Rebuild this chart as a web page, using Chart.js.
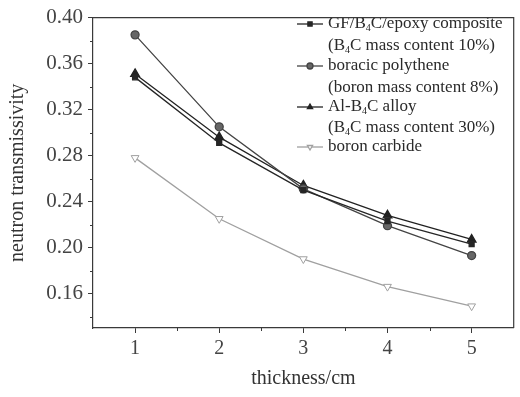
<!DOCTYPE html>
<html>
<head>
<meta charset="utf-8">
<script src="https://cdn.jsdelivr.net/npm/chart.js@4/dist/chart.umd.min.js"></script>
<style>
  html, body { margin: 0; padding: 0; background: #fff; }
  #wrap { width: 520px; height: 397px; }
</style>
</head>
<body>
<div id="wrap"><canvas id="grafico"></canvas></div>
<script>
// dados
const espessura = [1, 2, 3, 4, 5];
const gfB4cEpoxy = [0.348, 0.291, 0.250, 0.223, 0.203];
const polietilenoBorado = [0.385, 0.305, 0.251, 0.219, 0.193];
const ligaAlB4c = [0.351, 0.296, 0.254, 0.228, 0.207];
const carbetoBoro = [0.278, 0.225, 0.190, 0.166, 0.149];
const yTicks = [0.16, 0.20, 0.24, 0.28, 0.32, 0.36, 0.40];
const xTicks = [1, 2, 3, 4, 5];

const FONTE = '"Liberation Serif", "Times New Roman", serif';
const EIXO = '#3a3a3a';

function serie(label, data, cor, ponto, extra) {
    return Object.assign({
        label: label,
        data: espessura.map((x, i) => ({ x: x, y: data[i] })),
        borderColor: cor,
        backgroundColor: cor,
        pointBorderColor: cor,
        pointBackgroundColor: cor,
        pointStyle: ponto,
        pointRadius: 4,
        borderWidth: 1.3,
        tension: 0
    }, extra || {});
}

// legenda desenhada à mão (texto com subscrito)
const legendaPlugin = {
    id: 'legendaManual',
    afterDraw(chart) {
        const ctx = chart.ctx;
        const linhas = [
            { y: 24, ds: 0, partes: [['GF/B'], ['4', 1], ['C/epoxy composite']] },
            { y: 46, partes: [['(B'], ['4', 1], ['C mass content 10%)']] },
            { y: 66, ds: 1, partes: [['boracic polythene']] },
            { y: 88, partes: [['(boron mass content 8%)']] },
            { y: 107, ds: 2, partes: [['Al-B'], ['4', 1], ['C alloy']] },
            { y: 128, partes: [['(B'], ['4', 1], ['C mass content 30%)']] },
            { y: 147, ds: 3, partes: [['boron carbide']] }
        ];
        ctx.save();
        ctx.textBaseline = 'middle';
        linhas.forEach(l => {
            if (l.ds !== undefined) {
                const d = chart.data.datasets[l.ds];
                ctx.strokeStyle = d.borderColor;
                ctx.fillStyle = d.pointBackgroundColor;
                ctx.lineWidth = 1.3;
                ctx.beginPath();
                ctx.moveTo(297, l.y);
                ctx.lineTo(323, l.y);
                ctx.stroke();
                Chart.helpers.drawPoint(ctx, {
                    pointStyle: d.pointStyle,
                    radius: 3,
                    rotation: d.pointRotation || 0,
                    borderWidth: 1
                }, 310, l.y);
            }
            let x = 328;
            ctx.fillStyle = '#2a2a2a';
            l.partes.forEach(p => {
                if (p[1]) {
                    ctx.font = '10px ' + FONTE;
                    ctx.fillText(p[0], x, l.y + 4);
                } else {
                    ctx.font = '17px ' + FONTE;
                    ctx.fillText(p[0], x, l.y);
                }
                x += ctx.measureText(p[0]).width;
            });
        });
        ctx.restore();
    }
};

// moldura e marcas menores
const molduraPlugin = {
    id: 'moldura',
    afterDraw(chart) {
        const ctx = chart.ctx;
        const a = chart.chartArea;
        const xs = chart.scales.x, ys = chart.scales.y;
        ctx.save();
        ctx.strokeStyle = EIXO;
        ctx.lineWidth = 1.2;
        ctx.beginPath();
        ctx.moveTo(a.left, a.top);
        ctx.lineTo(a.right, a.top);
        ctx.lineTo(a.right, a.bottom);
        ctx.stroke();
        ctx.lineWidth = 1;
        for (let v = 0.14; v < 0.40; v += 0.04) {
            const py = Math.round(ys.getPixelForValue(v)) + 0.5;
            ctx.beginPath();
            ctx.moveTo(a.left - 3, py);
            ctx.lineTo(a.left, py);
            ctx.stroke();
        }
        for (let v = 1.5; v < 5.5; v += 1) {
            const px = Math.round(xs.getPixelForValue(v)) + 0.5;
            ctx.beginPath();
            ctx.moveTo(px, a.bottom);
            ctx.lineTo(px, a.bottom + 3);
            ctx.stroke();
        }
        ctx.restore();
    }
};

const config = {
    type: 'line',
    data: {
        datasets: [
            serie('GF/B4C/epoxy composite (B4C mass content 10%)', gfB4cEpoxy, '#262626', 'rect', { pointRadius: 3.5 }),
            serie('boracic polythene (boron mass content 8%)', polietilenoBorado, '#444444', 'circle', { pointBackgroundColor: '#666666' }),
            serie('Al-B4C alloy (B4C mass content 30%)', ligaAlB4c, '#222222', 'triangle', { pointRadius: 5 }),
            serie('boron carbide', carbetoBoro, '#a0a0a0', 'triangle', {
                pointRotation: 180,
                pointBackgroundColor: '#ffffff',
                pointRadius: 4.5,
                pointBorderWidth: 1
            })
        ]
    },
    options: {
        responsive: true,
        maintainAspectRatio: false,
        animation: false,
        layout: { padding: { top: 15, right: 4, left: 0, bottom: 0 } },
        plugins: {
            legend: { display: false },
            tooltip: { enabled: false }
        },
        scales: {
            x: {
                type: 'linear',
                min: 0.5,
                max: 5.5,
                afterBuildTicks: s => { s.ticks = xTicks.map(v => ({ value: v })); },
                afterFit: s => { s.height = 69; },
                grid: { drawOnChartArea: false, tickLength: 5, color: EIXO },
                border: { color: EIXO, width: 1.2 },
                ticks: { color: '#444', font: { family: FONTE, size: 20 }, padding: 4 },
                title: {
                    display: true,
                    text: 'thickness/cm',
                    color: '#333',
                    font: { family: FONTE, size: 20 },
                    padding: { top: 4, bottom: 6 }
                }
            },
            y: {
                min: 0.13,
                max: 0.40,
                afterBuildTicks: s => { s.ticks = yTicks.map(v => ({ value: v })); },
                afterFit: s => { s.width = 93; },
                grid: { drawOnChartArea: false, tickLength: 5, color: EIXO },
                border: { color: EIXO, width: 1.2 },
                ticks: {
                    color: '#444',
                    font: { family: FONTE, size: 21 },
                    padding: 5,
                    callback: v => v.toFixed(2)
                },
                title: {
                    display: true,
                    text: 'neutron transmissivity',
                    color: '#333',
                    font: { family: FONTE, size: 20 },
                    padding: { top: 6, bottom: 4 }
                }
            }
        }
    },
    plugins: [legendaPlugin, molduraPlugin]
};

new Chart(document.getElementById('grafico'), config);
</script>
</body>
</html>
